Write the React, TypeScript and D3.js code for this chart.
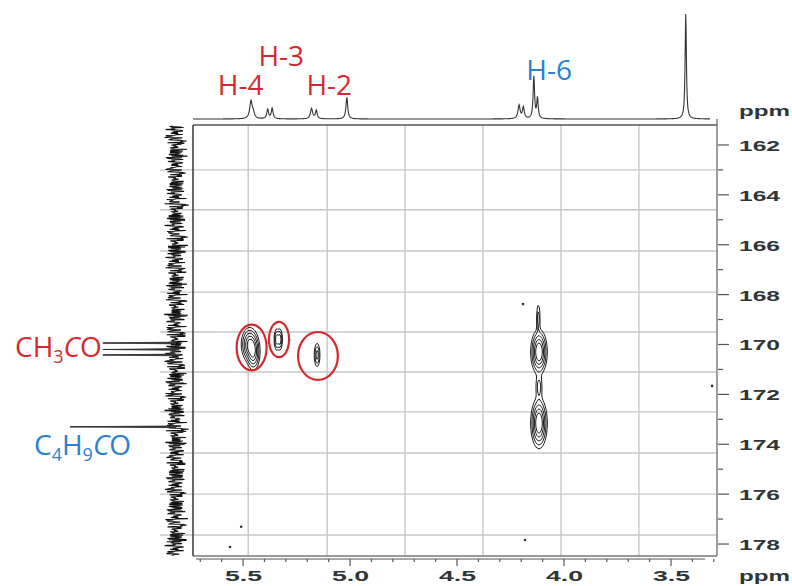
import React, { useMemo } from "react";
import * as d3 from "d3";

const W = 792;
const H = 586;

// Axis domains (ppm)
const hDomain: [number, number] = [5.734, 3.285];
const cDomain: [number, number] = [161.2, 178.48];

const hTicksMajor = [5.5, 5.0, 4.5, 4.0, 3.5];
const hTicksMinor = [5.7, 5.6, 5.4, 5.3, 5.2, 5.1, 4.9, 4.8, 4.7, 4.6, 4.4, 4.3, 4.2, 4.1, 3.9, 3.8, 3.7, 3.6, 3.4, 3.3];
const cTicksMajor = [162, 164, 166, 168, 170, 172, 174, 176, 178];
const cTicksMinor = [163, 165, 167, 169, 171, 173, 175, 177];

// Overlay grid (ppm)
const hGrid = [5.476, 5.107, 4.743, 4.379, 4.014, 3.65];
const cGrid = [163.0, 164.6, 166.25, 167.9, 169.5, 171.1, 172.7, 174.35, 176.0, 177.64];

// 1H projection peaks
const protonPpm = [5.463, 5.452, 5.385, 5.364, 5.18, 5.158, 5.015, 4.21, 4.19, 4.141, 4.124, 3.431];
const protonHeight = [17, 5, 9, 10, 10, 8, 21, 13, 11, 41, 20, 103];
const protonWidth = [0.007, 0.006, 0.005, 0.005, 0.006, 0.005, 0.005, 0.006, 0.005, 0.004, 0.004, 0.0035];

// 13C projection peaks and baseline noise
const carbonPpm = [169.94, 170.2, 170.42, 173.3];
const carbonHeight = [69, 69, 69, 100];
const carbonNoise = [3, -6, 8, -2, 5, -9, 1, 7, -4, 2, -8, 6, -1, 9, -5, 0, 4, -7, 3, -3, 8, -6, 2, 5, -10, 1, 6, -2, -8, 4, 7, -5, 0, 3, -9, 5, -1, 8, -4, 2, -7, 6, 1, -3, 9, -6, 0, 4, -8, 2, 7, -5, 3, -2, 6, -9, 1, 5, -4, 8, -1, -6, 3, 7, -3, 2, -8, 5, 0, -5, 9, -2, 4, -7, 1, 6, -4, 3, -9, 7, -1, 2, -6, 8, -3, 0, 5, -8, 4, -2, 6, -5, 1, 9, -7, 3, -4];
const carbonNoiseEnv = [0.9, 1.1, 0.7, 1.2, 0.8, 1.0, 0.6, 1.15, 0.95, 0.75, 1.2, 0.85, 1.05, 0.65, 1.1, 0.9, 0.7, 1.25, 0.8, 1.0, 0.6, 1.1, 0.95];

// HMBC cross peaks
const crossH = [5.47, 5.452, 5.343, 5.328, 5.154, 4.117, 4.117, 4.12, 4.117];
const crossC = [170.0, 170.32, 169.8, 169.8, 170.42, 170.3, 173.15, 168.95, 171.7];
const crossSH = [0.017, 0.014, 0.006, 0.006, 0.007, 0.0162, 0.0162, 0.005, 0.009];
const crossSC = [0.3, 0.32, 0.22, 0.22, 0.25, 0.38, 0.43, 0.35, 0.3];
const crossAmp = [1.0, 0.9, 0.5, 0.5, 0.45, 1.4, 1.4, 0.25, 0.25];
const contourLevels = [0.08, 0.18, 0.35, 0.6, 0.9];

// Annotation ellipses around the CH3CO correlations
const ringH = [5.46, 5.332, 5.15];
const ringC = [170.12, 169.8, 170.46];
const ringRH = [0.07, 0.047, 0.093];
const ringRC = [0.92, 0.71, 0.96];

// Small artefact dots
const dotH = [5.509, 5.561, 4.182, 4.192, 3.308];
const dotC = [177.31, 178.12, 177.84, 168.38, 171.66];

const RED = "#d42a2f";
const BLUE = "#2b80cf";
const AXIS_TEXT = "#2e3636";

export default function App() {
  const x = d3.scaleLinear().domain(hDomain).range([193, 717]);
  const y = d3.scaleLinear().domain(cDomain).range([125, 556]);
  const yTop = d3.scaleLinear().domain([0, 100]).range([119, 16]);
  const xLeft = d3.scaleLinear().domain([0, 100]).range([176, 70]);

  const protonPath = useMemo(() => {
    const pts: [number, number][] = [];
    const n = 1300;
    for (let i = 0; i <= n; i++) {
      const h = 5.734 + (i / n) * (3.318 - 5.734);
      let v = 0;
      for (let k = 0; k < protonPpm.length; k++) {
        const d = h - protonPpm[k];
        const w = protonWidth[k];
        v += (protonHeight[k] * w * w) / (d * d + w * w);
      }
      pts.push([h, v]);
    }
    return d3.line<[number, number]>().x((d) => x(d[0])).y((d) => yTop(d[1]))(pts) || "";
  }, []);

  const noisePath = useMemo(() => {
    const pts: [number, number][] = [];
    const c0 = 161.25;
    const c1 = 178.45;
    const n = 1300;
    for (let i = 0; i <= n; i++) {
      const c = c0 + (i / n) * (c1 - c0);
      const env = carbonNoiseEnv[Math.floor(i / 9) % carbonNoiseEnv.length];
      pts.push([carbonNoise[(i * 7) % carbonNoise.length] * env, c]);
    }
    return d3.line<[number, number]>().x((d) => xLeft(d[0])).y((d) => y(d[1]))(pts) || "";
  }, []);

  const carbonPaths = useMemo(() => {
    const line = d3.line<[number, number]>().x((d) => xLeft(d[0])).y((d) => y(d[1]));
    return carbonPpm.map((c, i) =>
      line([
        [0, c - 0.035],
        [carbonHeight[i], c],
        [0, c + 0.035],
      ]) || ""
    );
  }, []);

  const contourPaths = useMemo(() => {
    const nx = 525;
    const ny = 432;
    const hAt = (g: number) => hDomain[0] + (g / (nx - 1)) * (hDomain[1] - hDomain[0]);
    const cAt = (g: number) => cDomain[0] + (g / (ny - 1)) * (cDomain[1] - cDomain[0]);
    const values = new Float64Array(nx * ny);
    for (let j = 0; j < ny; j++) {
      const c = cAt(j);
      for (let i = 0; i < nx; i++) {
        const h = hAt(i);
        let v = 0;
        for (let k = 0; k < crossH.length; k++) {
          const dh = (h - crossH[k]) / crossSH[k];
          const dc = (c - crossC[k]) / crossSC[k];
          const e = (dh * dh + dc * dc) / 2;
          if (e < 20) v += crossAmp[k] * Math.exp(-e);
        }
        values[j * nx + i] = v;
      }
    }
    const contours = d3.contours().size([nx, ny]).thresholds(contourLevels)(Array.from(values));
    const proj = d3.geoTransform({
      point(px: number, py: number) {
        (this as any).stream.point(x(hAt(px - 0.5)), y(cAt(py - 0.5)));
      },
    });
    const path = d3.geoPath(proj);
    return contours.map((g) => path(g as any) || "");
  }, []);

  const fontLabel = "'Open Sans', 'Noto Sans', sans-serif";
  const fontAxis = "'Liberation Sans', Arial, sans-serif";

  return (
    <svg
      width={W}
      height={H}
      viewBox={`0 0 ${W} ${H}`}
      style={{ position: "absolute", left: 0, top: 0, background: "#fff" }}
    >
      {/* Grid */}
      <g stroke="#c6c6c6" strokeWidth={1.4}>
        {hGrid.map((h, i) => (
          <line key={"vg" + i} x1={x(h)} x2={x(h)} y1={y(cDomain[0])} y2={y(cDomain[1])} />
        ))}
        {cGrid.map((c, i) => (
          <line key={"hg" + i} x1={160} x2={x(hDomain[1])} y1={y(c)} y2={y(c)} />
        ))}
      </g>

      {/* 13C projection */}
      <path d={noisePath} fill="none" stroke="#111" strokeWidth={1.05} />
      {carbonPaths.map((d, i) => (
        <path key={"cp" + i} d={d} fill="#333" stroke="#333" strokeWidth={0.8} />
      ))}

      {/* Frame */}
      <g fill="none">
        <line x1={x(hDomain[0])} x2={x(hDomain[1])} y1={y(cDomain[0])} y2={y(cDomain[0])} stroke="#555" strokeWidth={1.4} />
        <line x1={x(hDomain[0])} x2={x(hDomain[1])} y1={y(cDomain[1])} y2={y(cDomain[1])} stroke="#777" strokeWidth={1.6} />
        <line x1={x(hDomain[0])} x2={x(hDomain[0])} y1={y(cDomain[0])} y2={y(cDomain[1])} stroke="#444" strokeWidth={1.6} />
        <line x1={x(hDomain[1])} x2={x(hDomain[1])} y1={y(cDomain[0]) - 6} y2={y(cDomain[1])} stroke="#777" strokeWidth={1.4} />
      </g>

      {/* 1H projection */}
      <path d={protonPath} fill="none" stroke="#333" strokeWidth={1.1} />

      {/* Contours */}
      {contourPaths.map((d, i) => (
        <path key={"ct" + i} d={d} fill="none" stroke="#1e1e1e" strokeWidth={1} />
      ))}

      {/* Artefact dots */}
      {dotH.map((h, i) => (
        <circle key={"dt" + i} cx={x(h)} cy={y(dotC[i])} r={1.3} fill="#333" />
      ))}

      {/* Ellipses */}
      {ringH.map((h, i) => (
        <ellipse
          key={"rg" + i}
          cx={x(h)}
          cy={y(ringC[i])}
          rx={Math.abs(x(h + ringRH[i]) - x(h))}
          ry={Math.abs(y(ringC[i] + ringRC[i]) - y(ringC[i]))}
          fill="none"
          stroke={RED}
          strokeWidth={2.2}
        />
      ))}

      {/* Bottom axis */}
      <g stroke="#555" strokeWidth={1.2}>
        <line x1={196} x2={705} y1={559} y2={559} />
        {hTicksMajor.map((h) => (
          <line key={"hM" + h} x1={x(h)} x2={x(h)} y1={559} y2={566} />
        ))}
        {hTicksMinor.map((h) => (
          <line key={"hm" + h} x1={x(h)} x2={x(h)} y1={559} y2={562} />
        ))}
      </g>
      <g fill={AXIS_TEXT} fontFamily={fontAxis} fontWeight="bold" fontSize={15}>
        {hTicksMajor.map((h) => (
          <text key={"hl" + h} x={x(h) - 18} y={581} textLength={37} lengthAdjust="spacingAndGlyphs">
            {h.toFixed(1)}
          </text>
        ))}
        <text x={739} y={581} textLength={51} lengthAdjust="spacingAndGlyphs">ppm</text>
        <text x={739} y={116} textLength={51} lengthAdjust="spacingAndGlyphs">ppm</text>
      </g>

      {/* Right axis */}
      <g stroke="#555" strokeWidth={1.2}>
        {cTicksMajor.map((c) => (
          <line key={"cM" + c} x1={718} x2={729} y1={y(c)} y2={y(c)} />
        ))}
        {cTicksMinor.map((c) => (
          <line key={"cm" + c} x1={718} x2={723} y1={y(c)} y2={y(c)} />
        ))}
      </g>
      <g fill={AXIS_TEXT} fontFamily={fontAxis} fontWeight="bold" fontSize={15}>
        {cTicksMajor.map((c) => (
          <text key={"cl" + c} x={739} y={y(c) + 6} textLength={41} lengthAdjust="spacingAndGlyphs">
            {c}
          </text>
        ))}
      </g>

      {/* Assignment labels */}
      <g fontFamily={fontLabel} fontSize={28}>
        <text x={x(5.618)} y={95} fill={RED}>H-4</text>
        <text x={x(5.428)} y={66} fill={RED}>H-3</text>
        <text x={x(5.204)} y={95} fill={RED}>H-2</text>
        <text x={x(4.176)} y={80} fill={BLUE}>H-6</text>
        <text x={15} y={357} fill={RED}>
          CH<tspan fontSize={18} dy={6}>3</tspan>
          <tspan dy={-6} fontStyle="italic">C</tspan>O
        </text>
        <text x={34} y={455} fill={BLUE}>
          C<tspan fontSize={18} dy={6}>4</tspan>
          <tspan dy={-6}>H</tspan>
          <tspan fontSize={18} dy={6}>9</tspan>
          <tspan dy={-6} fontStyle="italic">C</tspan>O
        </text>
      </g>

      {/* CH3CO / C4H9CO marker lines */}
      <g stroke="#333" strokeWidth={1}>
        <line x1={103} x2={xLeft(0)} y1={y(carbonPpm[0])} y2={y(carbonPpm[0])} />
        <line x1={103} x2={xLeft(0)} y1={y(carbonPpm[1])} y2={y(carbonPpm[1])} />
        <line x1={103} x2={xLeft(0)} y1={y(carbonPpm[2])} y2={y(carbonPpm[2])} />
        <line x1={70} x2={xLeft(0)} y1={y(carbonPpm[3])} y2={y(carbonPpm[3])} />
      </g>
    </svg>
  );
}
